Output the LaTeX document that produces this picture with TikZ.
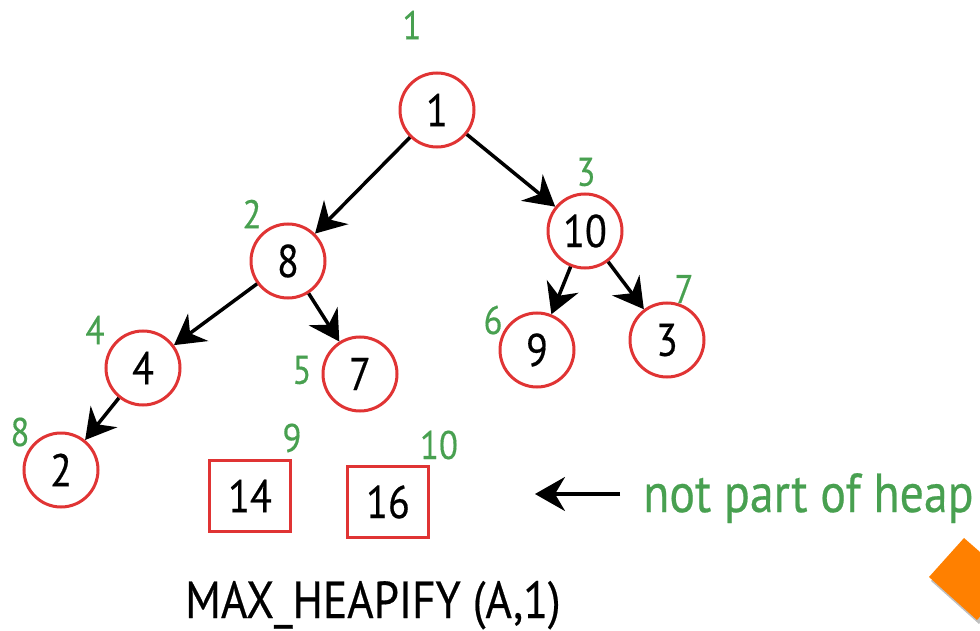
\documentclass[tikz,border=0pt]{standalone}
\usepackage{fontspec}
\setmainfont{PT Sans}[FakeStretch=0.87,FakeBold=0.4]
\usetikzlibrary{arrows.meta}
\definecolor{nodered}{RGB}{224,52,52}
\definecolor{idxgreen}{RGB}{72,160,80}
\definecolor{diamondorange}{RGB}{255,128,0}
\tikzset{
  heapnode/.style={circle, draw=nodered, line width=3pt, minimum size=74pt, inner sep=0pt, font=\fontsize{46}{50}\selectfont, text=black},
  arraybox/.style={rectangle, draw=nodered, line width=3pt, minimum width=81pt, minimum height=71pt, inner sep=0pt, font=\fontsize{46}{50}\selectfont, text=black},
  idx/.style={text=idxgreen, font=\fontsize{40}{42}\selectfont, inner sep=0pt},
  edge/.style={line width=3.5pt, -{Stealth[length=30pt,width=34pt,inset=10pt]}},
}
\begin{document}
\begin{tikzpicture}[x=1pt,y=-1pt]
\useasboundingbox (0,0) rectangle (980,631);
% orange diamond (partly outside)
\fill[black!25] (931,581) -- (966,542) -- (1014,584) -- (979,624) -- cycle;
\fill[diamondorange] (929,577) -- (964,538) -- (1012,580) -- (977,620) -- cycle;
% heap nodes
\node[heapnode] (n1) at (437,110) {1};
\node[heapnode] (n2) at (288,261) {8};
\node[heapnode] (n3) at (585,231) {10};
\node[heapnode] (n4) at (143,368) {4};
\node[heapnode] (n5) at (360,374) {7};
\node[heapnode] (n6) at (537,350) {9};
\node[heapnode] (n7) at (667,340) {3};
\node[heapnode] (n8) at (61,470) {2};
\node[arraybox] (n9) at (250,496) {14};
\node[arraybox] (n10) at (388,502) {16};
% index labels
\node[idx] (i1) at (412,25) {1};
\node[idx] (i2) at (252,214) {2};
\node[idx] (i3) at (586,172) {3};
\node[idx] (i4) at (95,330) {4};
\node[idx] (i5) at (302,370) {5};
\node[idx] (i6) at (493,320) {6};
\node[idx] (i7) at (684,289) {7};
\node[idx] (i8) at (20,432) {8};
\node[idx] (i9) at (292,438) {9};
\node[idx] (i10) at (439,445) {10};
% edges
\draw[edge] (n1) -- (n2);
\draw[edge] (n1) -- (n3);
\draw[edge] (n2) -- (n4);
\draw[edge] (n2) -- (n5);
\draw[edge] (n4) -- (n8);
\draw[edge] (n3) -- (n6);
\draw[edge] (n3) -- (n7);
% note
\node[text=idxgreen, font=\fontsize{55}{58}\selectfont, anchor=base west, inner sep=0pt] (note) at (643,512) {not part of heap};
\coordinate (tail) at (620,494);
\coordinate (tip) at (535,494);
\draw[edge] (tail) -- (tip);
% title
\node[font=\fontsize{52}{56}\selectfont, anchor=base west, inner sep=0pt] (title) at (185,618) {MAX\_HEAPIFY (A,1)};
\end{tikzpicture}
\end{document}
